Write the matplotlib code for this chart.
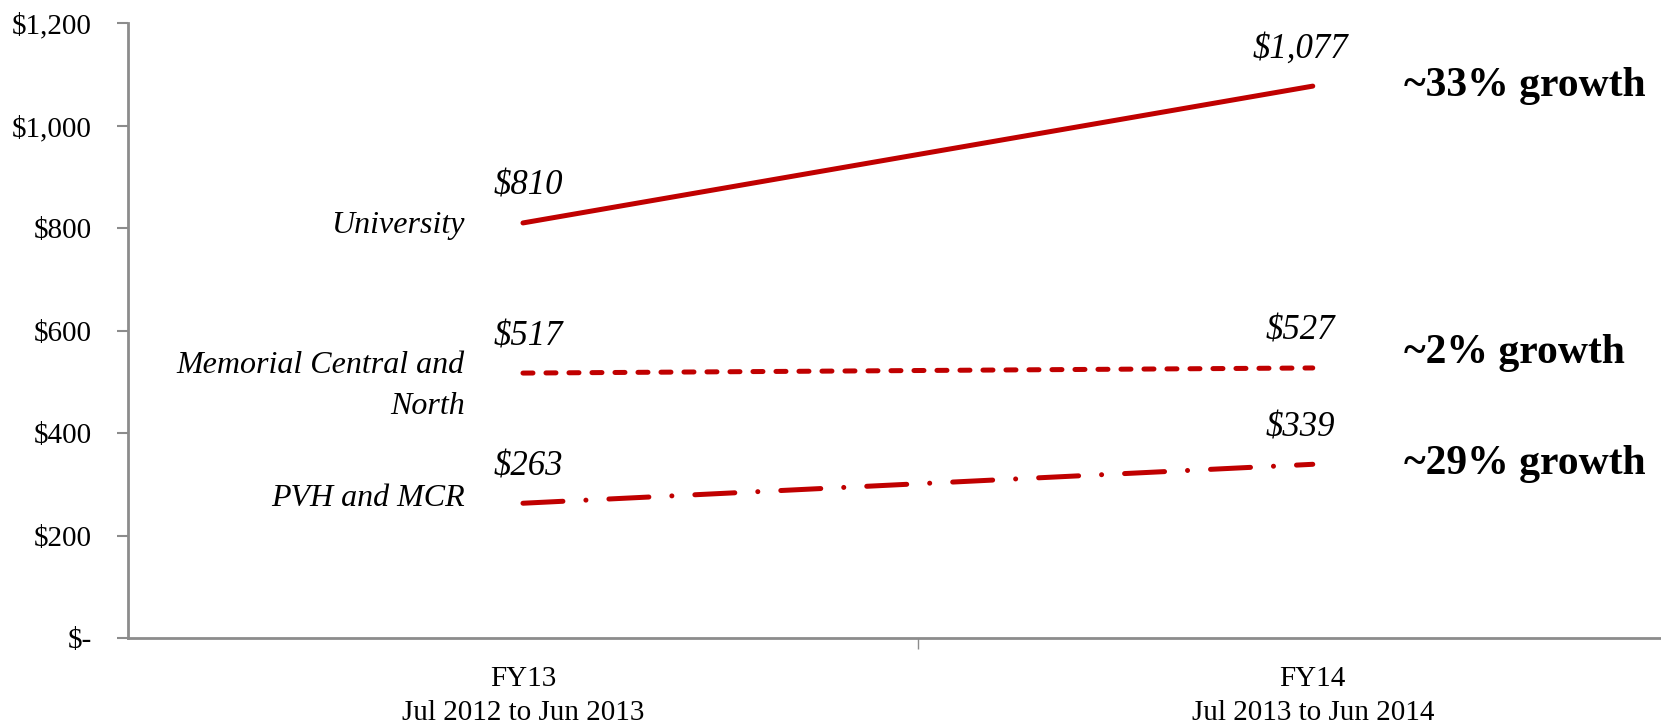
import matplotlib
matplotlib.use('Agg')
import matplotlib.pyplot as plt
from matplotlib.ticker import FuncFormatter

# Datos del grafico
periodos = ['FY13\nJul 2012 to Jun 2013', 'FY14\nJul 2013 to Jun 2014']
series = ['University', 'Memorial Central and\nNorth', 'PVH and MCR']
university = [810, 1077]
memorial = [517, 527]
pvh = [263, 339]
crecimiento = ['~33% growth', '~2% growth', '~29% growth']

rojo = '#C00000'
gris = '#8C8C8C'
plt.rcParams['font.family'] = ['Liberation Serif', 'DejaVu Serif']

fig = plt.figure(figsize=(16.61, 7.26), dpi=100)
ax = fig.add_axes([0.0771, 0.1212, 0.951, 0.847])

x = [0, 1]
lineas = [university, memorial, pvh]
dashes = ['-', (0, (2.0, 2.6)), (0, (8, 4.6, 0.01, 4.6))]

for valores, ls in zip(lineas, dashes):
    ax.plot(x, valores, color=rojo, linewidth=3.6, linestyle=ls,
            solid_capstyle='round', dash_capstyle='round')

# Etiquetas de valores
for valores in lineas:
    for xi, v in zip(x, valores):
        dx = 5 if xi == 0 else -12
        ax.annotate(f'${v:,}', (xi, v), xytext=(dx, 20), textcoords='offset pixels',
                    ha='center', va='bottom', fontsize=25, style='italic')

# Nombres de las series a la izquierda
for nombre, valores, dy in zip(series, lineas, [-3, 22, 5]):
    va = 'top' if '\n' in nombre else 'center'
    ax.annotate(nombre, (0, valores[0]), xytext=(-58, dy), textcoords='offset pixels',
                ha='right', va=va, fontsize=23, style='italic', linespacing=1.55)

# Crecimiento a la derecha
for texto, valores, dy in zip(crecimiento, lineas, [0, 15, 0]):
    ax.annotate(texto, (1, valores[1]), xytext=(91, dy), textcoords='offset pixels',
                ha='left', va='center', fontsize=30, fontweight='bold')

ax.set_xlim(-0.5, 1.5)
ax.set_ylim(0, 1200)
ax.set_yticks(range(0, 1201, 200))
ax.yaxis.set_major_formatter(FuncFormatter(lambda v, p: '$-' if v == 0 else f'${int(v):,}'))
ax.set_xticks(x)
ax.set_xticklabels(periodos, fontsize=21, linespacing=1.4)
ax.set_xticks([0.5], minor=True)
ax.tick_params(axis='x', which='major', length=0, pad=20)
ax.tick_params(axis='x', which='minor', length=8, color=gris, width=1)
ax.tick_params(axis='y', length=8, color=gris, width=1.5, labelsize=21, pad=18)

for lado in ['top', 'right']:
    ax.spines[lado].set_visible(False)
for lado in ['left', 'bottom']:
    ax.spines[lado].set_color(gris)
    ax.spines[lado].set_linewidth(2)

plt.savefig('out.png', dpi=100)
